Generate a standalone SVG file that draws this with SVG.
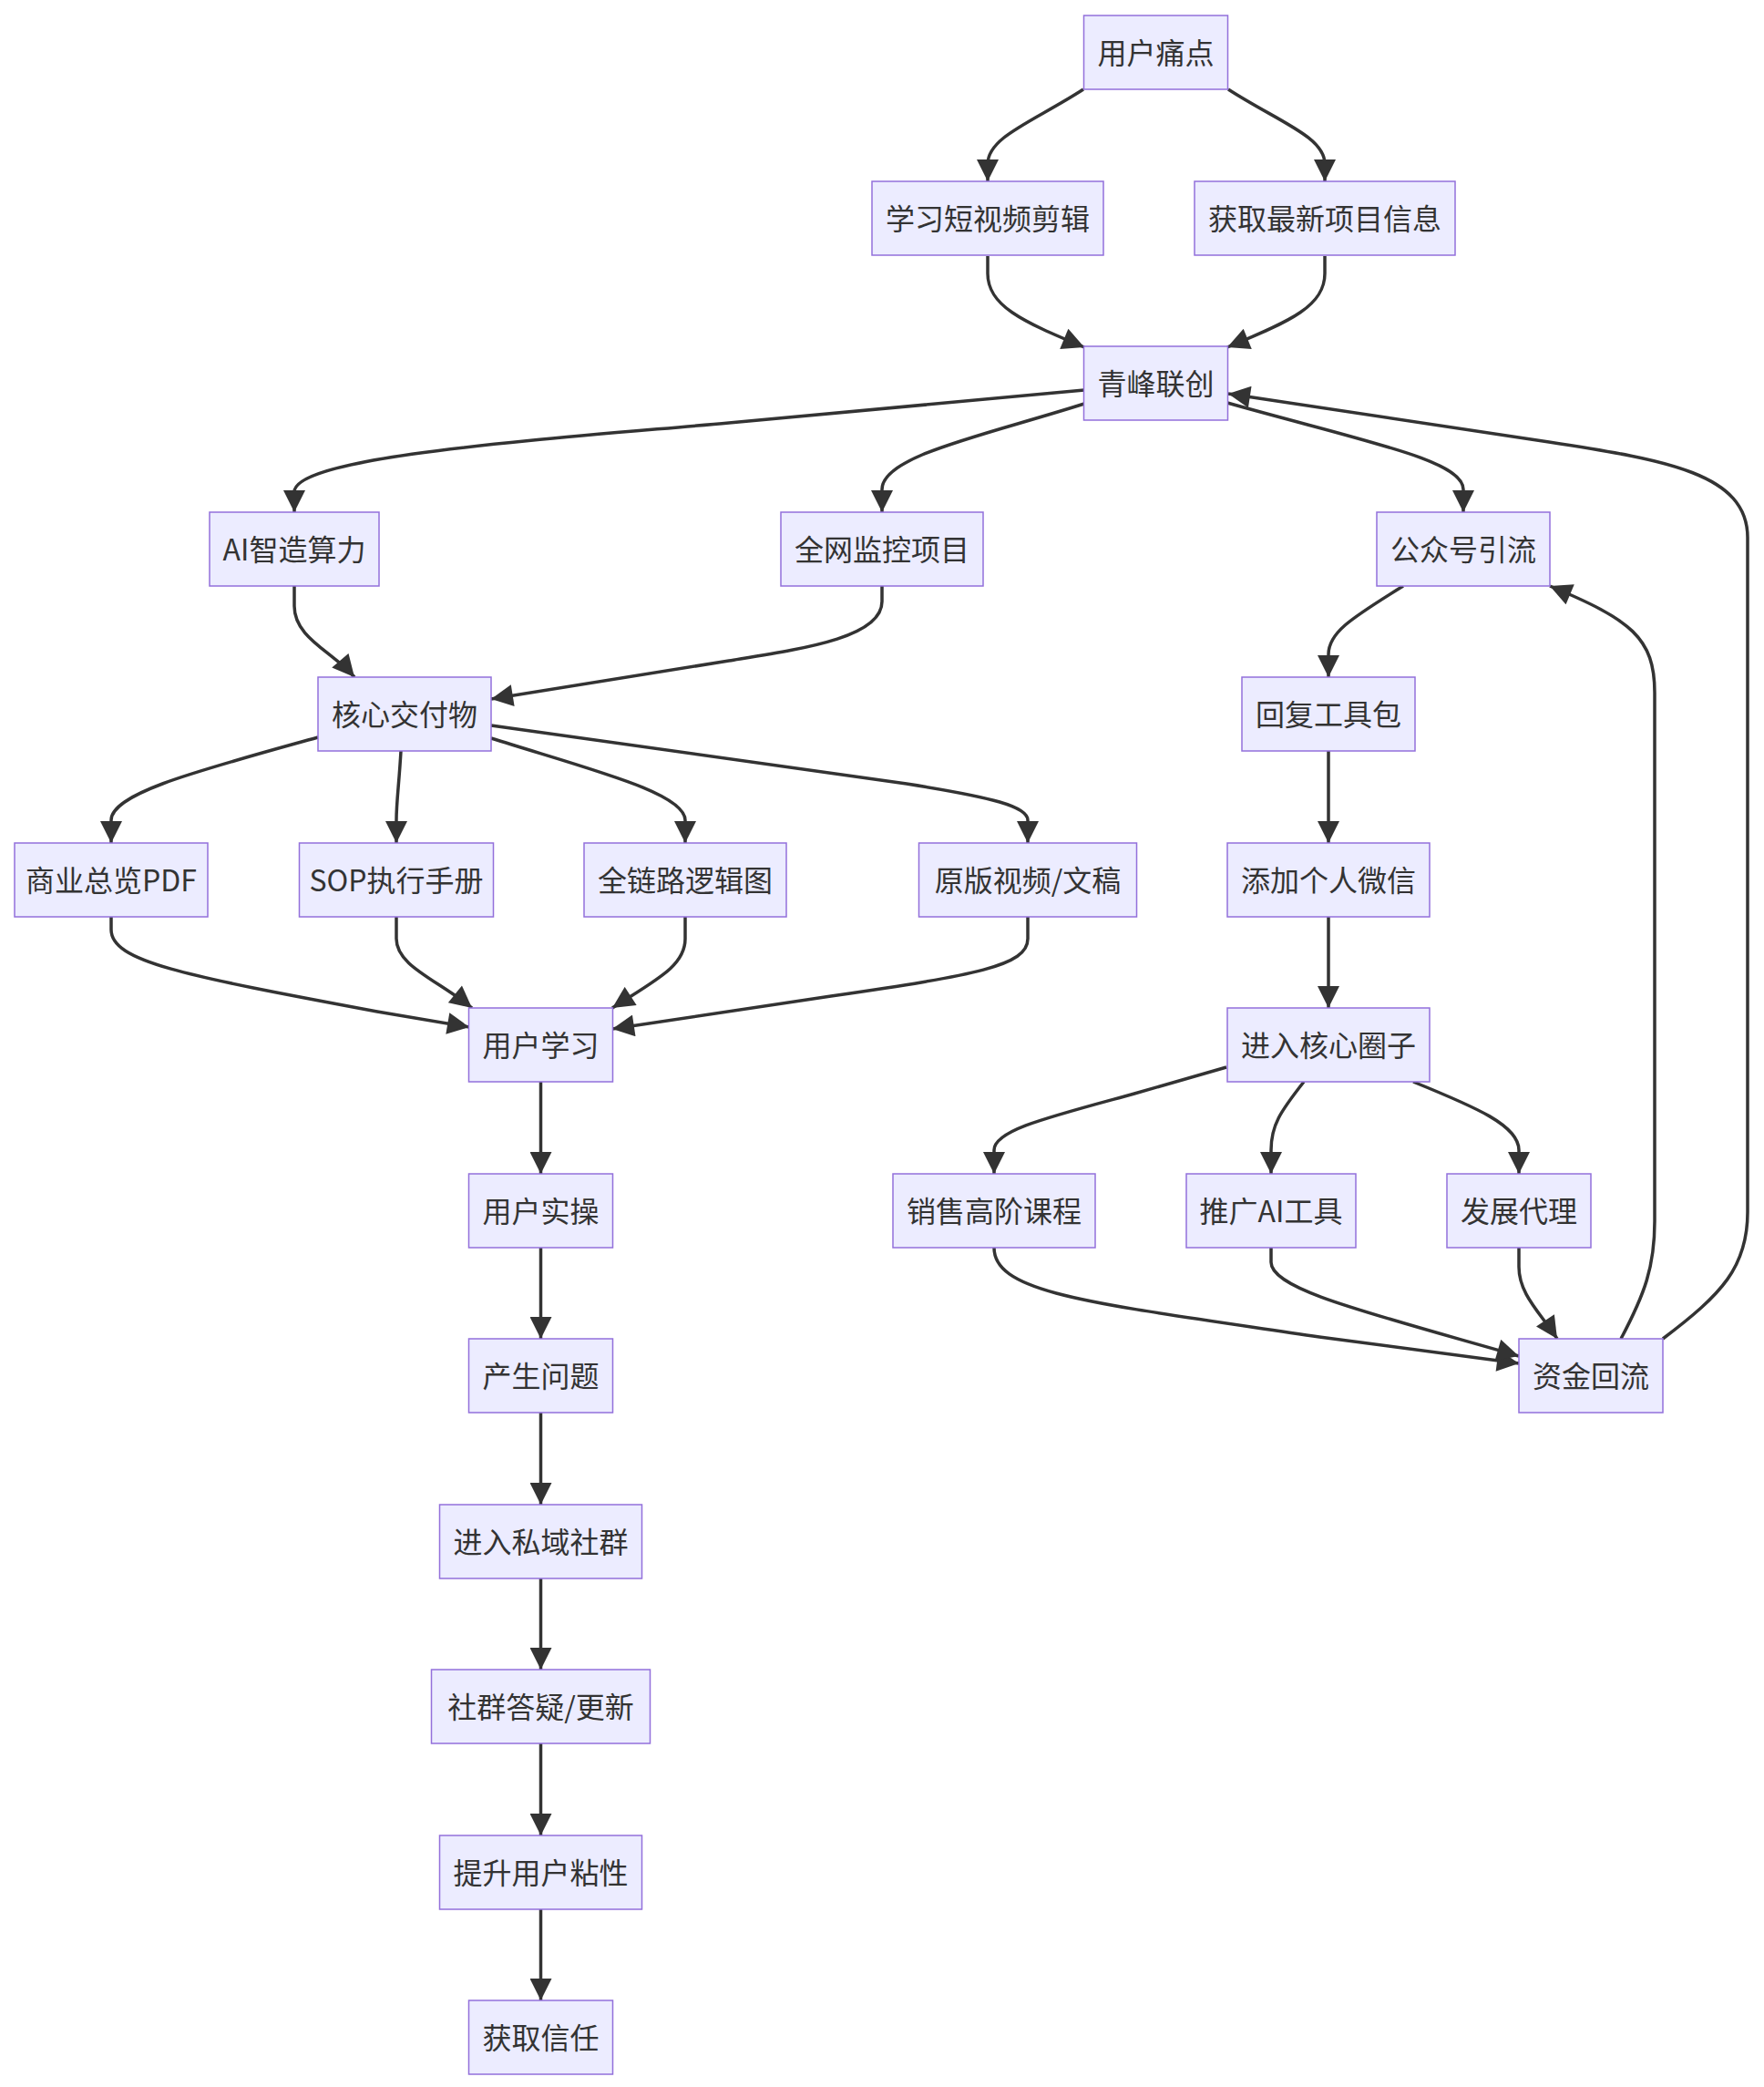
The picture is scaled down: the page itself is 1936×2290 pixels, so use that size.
<svg xmlns="http://www.w3.org/2000/svg" width="1936" height="2290" viewBox="0 0 1936 2290">
<style>
.node rect{fill:#ECECFF;stroke:#9370DB;stroke-width:1.5}
.node text{font-family:"Noto Sans CJK SC","Liberation Sans",sans-serif;font-size:32px;fill:#333;text-anchor:middle;dominant-baseline:central}
.edges path{fill:none;stroke:#333;stroke-width:3.5;marker-end:url(#arrow)}
</style>
<defs>
<marker id="arrow" viewBox="0 0 10 10" refX="10" refY="5" markerUnits="userSpaceOnUse" markerWidth="25" markerHeight="24" orient="auto">
<path d="M0,0 L10,5 L0,10 z" fill="#333"/>
</marker>
</defs>
<rect width="1936" height="2290" fill="#fff"/>
<g class="edges">
<path d="M1189,98 C1135,133 1084,150 1084,180 L1084,199"/>
<path d="M1348,98 C1402,133 1454,150 1454,180 L1454,199"/>
<path d="M1084,281 L1084,300 C1084,335 1120,352 1190,381"/>
<path d="M1454,281 L1454,300 C1454,335 1418,352 1347,381"/>
<path d="M1190,428 L800,464 C600,482 323,500 323,540 L323,562"/>
<path d="M1190,443 C1080,478 968,500 968,537 L968,562"/>
<path d="M1347,442 C1500,485 1606,505 1606,537 L1606,562"/>
<path d="M1825,1469 C1890,1420 1918,1390 1918,1330 L1918,590 C1918,520 1830,505 1700,485 L1348,432"/>
<path d="M1779,1469 C1805,1420 1816,1390 1816,1340 L1816,760 C1816,700 1790,680 1701,643"/>
<path d="M1540,643 C1480,680 1458,695 1458,718 L1458,743"/>
<path d="M1458,824 L1458,925"/>
<path d="M1458,1006 L1458,1106"/>
<path d="M1346,1171 L1245,1200 C1150,1226 1091,1240 1091,1262 L1091,1288"/>
<path d="M1431,1187 C1405,1220 1395,1235 1395,1262 L1395,1288"/>
<path d="M1551,1187 C1620,1215 1667,1235 1667,1262 L1667,1288"/>
<path d="M1091,1369 C1091,1420 1200,1430 1448,1467 L1667,1496"/>
<path d="M1395,1369 L1395,1385 C1395,1415 1500,1440 1667,1488"/>
<path d="M1667,1369 L1667,1390 C1667,1420 1690,1440 1709,1469"/>
<path d="M323,643 L323,665 C323,700 365,715 389,743"/>
<path d="M968,643 L968,660 C968,700 880,712 800,725 L539,767"/>
<path d="M349,809 C220,845 122,870 122,900 L122,925"/>
<path d="M440,824 C438,860 435,880 435,900 L435,925"/>
<path d="M539,810 C650,845 752,870 752,900 L752,925"/>
<path d="M539,796 L995,860 C1090,875 1128,885 1128,900 L1128,925"/>
<path d="M122,1006 L122,1020 C122,1055 200,1070 414,1110 L515,1127"/>
<path d="M435,1006 L435,1030 C435,1060 480,1075 518,1106"/>
<path d="M752,1006 L752,1030 C752,1060 720,1075 672,1106"/>
<path d="M1128,1006 L1128,1030 C1128,1060 1070,1070 912,1093 L672,1129"/>
<path d="M593.5,1187 L593.5,1288"/>
<path d="M593.5,1369 L593.5,1469"/>
<path d="M593.5,1550 L593.5,1651"/>
<path d="M593.5,1732 L593.5,1832"/>
<path d="M593.5,1913 L593.5,2014"/>
<path d="M593.5,2095 L593.5,2195"/>
</g>
<g id="n1" class="node"><rect x="1189.5" y="17" width="158" height="81"/><text x="1268.5" y="55.5">用户痛点</text></g>
<g id="n2" class="node"><rect x="957" y="199" width="254" height="81"/><text x="1084" y="237.5">学习短视频剪辑</text></g>
<g id="n3" class="node"><rect x="1311" y="199" width="286" height="81"/><text x="1454" y="237.5">获取最新项目信息</text></g>
<g id="n4" class="node"><rect x="1189.5" y="380" width="158" height="81"/><text x="1268.5" y="418.5">青峰联创</text></g>
<g id="n5" class="node"><rect x="230" y="562" width="186" height="81"/><text x="323" y="600.5">AI智造算力</text></g>
<g id="n6" class="node"><rect x="857" y="562" width="222" height="81"/><text x="968" y="600.5">全网监控项目</text></g>
<g id="n7" class="node"><rect x="1511" y="562" width="190" height="81"/><text x="1606" y="600.5">公众号引流</text></g>
<g id="n8" class="node"><rect x="349" y="743" width="190" height="81"/><text x="444" y="781.5">核心交付物</text></g>
<g id="n9" class="node"><rect x="1363" y="743" width="190" height="81"/><text x="1458" y="781.5">回复工具包</text></g>
<g id="n10" class="node"><rect x="16" y="925" width="212" height="81"/><text x="122" y="963.5">商业总览PDF</text></g>
<g id="n11" class="node"><rect x="328.5" y="925" width="213" height="81"/><text x="435" y="963.5">SOP执行手册</text></g>
<g id="n12" class="node"><rect x="641" y="925" width="222" height="81"/><text x="752" y="963.5">全链路逻辑图</text></g>
<g id="n13" class="node"><rect x="1008.5" y="925" width="239" height="81"/><text x="1128" y="963.5">原版视频/文稿</text></g>
<g id="n14" class="node"><rect x="1347" y="925" width="222" height="81"/><text x="1458" y="963.5">添加个人微信</text></g>
<g id="n15" class="node"><rect x="514.5" y="1106" width="158" height="81"/><text x="593.5" y="1144.5">用户学习</text></g>
<g id="n16" class="node"><rect x="1347" y="1106" width="222" height="81"/><text x="1458" y="1144.5">进入核心圈子</text></g>
<g id="n17" class="node"><rect x="514.5" y="1288" width="158" height="81"/><text x="593.5" y="1326.5">用户实操</text></g>
<g id="n18" class="node"><rect x="980" y="1288" width="222" height="81"/><text x="1091" y="1326.5">销售高阶课程</text></g>
<g id="n19" class="node"><rect x="1302" y="1288" width="186" height="81"/><text x="1395" y="1326.5">推广AI工具</text></g>
<g id="n20" class="node"><rect x="1588" y="1288" width="158" height="81"/><text x="1667" y="1326.5">发展代理</text></g>
<g id="n21" class="node"><rect x="514.5" y="1469" width="158" height="81"/><text x="593.5" y="1507.5">产生问题</text></g>
<g id="n22" class="node"><rect x="1667" y="1469" width="158" height="81"/><text x="1746" y="1507.5">资金回流</text></g>
<g id="n23" class="node"><rect x="482.5" y="1651" width="222" height="81"/><text x="593.5" y="1689.5">进入私域社群</text></g>
<g id="n24" class="node"><rect x="473.5" y="1832" width="240" height="81"/><text x="593.5" y="1870.5">社群答疑/更新</text></g>
<g id="n25" class="node"><rect x="482.5" y="2014" width="222" height="81"/><text x="593.5" y="2052.5">提升用户粘性</text></g>
<g id="n26" class="node"><rect x="514.5" y="2195" width="158" height="81"/><text x="593.5" y="2233.5">获取信任</text></g>
</svg>
